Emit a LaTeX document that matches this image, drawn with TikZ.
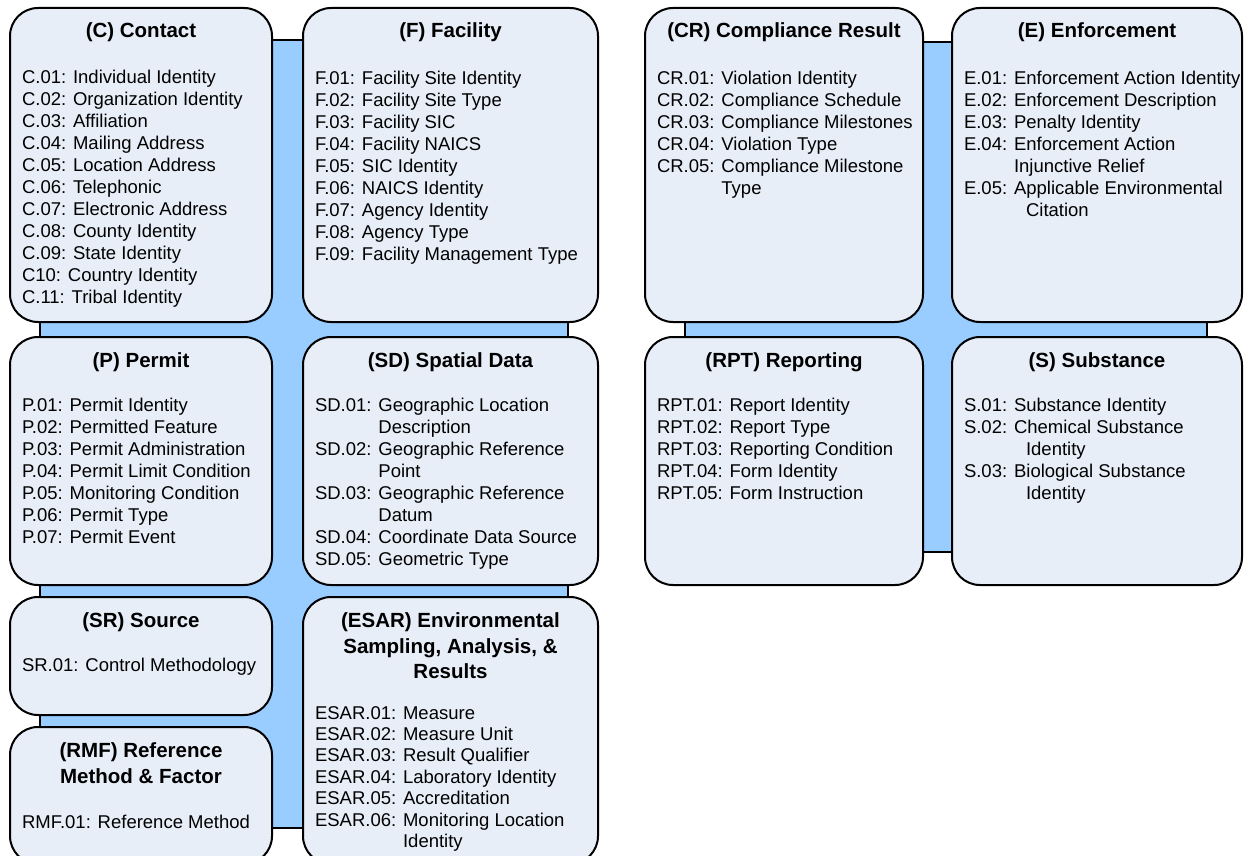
\documentclass[tikz,border=0pt]{standalone}
\usepackage{fontspec}
\setmainfont{Liberation Sans}
\usetikzlibrary{calc}
\definecolor{boxfill}{RGB}{232,238,248}
\definecolor{bgblue}{RGB}{153,204,255}
\tikzset{
  box/.style={draw=black, line width=2pt, fill=boxfill, rounded corners=28pt, inner sep=0pt, outer sep=0pt},
  bluebg/.style={draw=black, line width=2pt, fill=bgblue},
  titletext/.style={inner sep=0pt, outer sep=0pt, font=\fontsize{20.5}{25.5}\selectfont\bfseries},
  bodytext/.style={inner sep=0pt, outer sep=0pt, font=\fontsize{18.5}{22}\selectfont},
  bodytight/.style={inner sep=0pt, outer sep=0pt, font=\fontsize{18.5}{21.5}\selectfont},
}
% #1 name #2 left #3 top #4 right #5 bottom #6 title rows #7 title y #8 body rows #9 body y
\newcommand\panel[9]{%
  \pgfmathsetmacro\pw{#4-#2}%
  \pgfmathsetmacro\ph{#5-#3}%
  \pgfmathsetmacro\pcx{(#2+#4)/2}%
  \node[box, minimum width=\pw pt, minimum height=\ph pt, anchor=north west] (#1) at (#2,#3) {};
  \node[titletext, anchor=north] (#1-t) at (\pcx,#7-10.2) {\begin{tabular}{@{}c@{}}#6\end{tabular}};
  \node[bodytext, anchor=north west] (#1-b) at (#2+12,#9-8.8) {\begin{tabular}{@{}l@{}}#8\end{tabular}};
}
\begin{document}
\begin{tikzpicture}[x=1pt,y=-1pt]
\useasboundingbox (0,0) rectangle (1245,856);
\draw[bluebg] (40,40) rectangle (568,828);
\draw[bluebg] (685,42) rectangle (1207,552);

\panel{c}{10}{8}{272}{322}{(C) Contact}{30}{%
C.01: Individual Identity\\
C.02: Organization Identity\\
C.03: Affiliation\\
C.04: Mailing Address\\
C.05: Location Address\\
C.06: Telephonic\\
C.07: Electronic Address\\
C.08: County Identity\\
C.09: State Identity\\
C10: Country Identity\\
C.11: Tribal Identity}{77}

\panel{f}{303}{8}{598}{322}{(F) Facility}{30}{%
F.01: Facility Site Identity\\
F.02: Facility Site Type\\
F.03: Facility SIC\\
F.04: Facility NAICS\\
F.05: SIC Identity\\
F.06: NAICS Identity\\
F.07: Agency Identity\\
F.08: Agency Type\\
F.09: Facility Management Type}{78}

\panel{p}{10}{337}{272}{585}{(P) Permit}{360}{%
P.01: Permit Identity\\
P.02: Permitted Feature\\
P.03: Permit Administration\\
P.04: Permit Limit Condition\\
P.05: Monitoring Condition\\
P.06: Permit Type\\
P.07: Permit Event}{405}

\panel{sd}{303}{337}{598}{585}{(SD) Spatial Data}{360}{%
SD.01: Geographic Location\\
\phantom{SD.01: }Description\\
SD.02: Geographic Reference\\
\phantom{SD.02: }Point\\
SD.03: Geographic Reference\\
\phantom{SD.03: }Datum\\
SD.04: Coordinate Data Source\\
SD.05: Geometric Type}{405}

\panel{sr}{10}{597}{272}{715}{(SR) Source}{620}{%
SR.01: Control Methodology}{665}

\panel{rmf}{10}{727}{272}{864}{(RMF) Reference\\Method \& Factor}{750}{%
RMF.01: Reference Method}{822}

\panel{esar}{303}{597}{598}{864}{(ESAR) Environmental\\Sampling, Analysis, \&\\Results}{620}{%
\fontsize{18.5}{21.4}\selectfont
\begin{tabular}{@{}l@{}}
ESAR.01: Measure\\
ESAR.02: Measure Unit\\
ESAR.03: Result Qualifier\\
ESAR.04: Laboratory Identity\\
ESAR.05: Accreditation\\
ESAR.06: Monitoring Location\\
\phantom{ESAR.06: }Identity
\end{tabular}}{713}

\panel{cr}{645}{8}{923}{322}{(CR) Compliance Result}{30}{%
CR.01: Violation Identity\\
CR.02: Compliance Schedule\\
CR.03: Compliance Milestones\\
CR.04: Violation Type\\
CR.05: Compliance Milestone\\
\phantom{CR.05: }Type}{78}

\panel{e}{952}{8}{1242}{322}{(E) Enforcement}{30}{%
E.01: Enforcement Action Identity\\
E.02: Enforcement Description\\
E.03: Penalty Identity\\
E.04: Enforcement Action\\
\phantom{E.04: }Injunctive Relief\\
E.05: Applicable Environmental\\
\phantom{E.05: }\hspace{12pt}Citation}{78}

\panel{rpt}{645}{337}{923}{585}{(RPT) Reporting}{360}{%
RPT.01: Report Identity\\
RPT.02: Report Type\\
RPT.03: Reporting Condition\\
RPT.04: Form Identity\\
RPT.05: Form Instruction}{405}

\panel{s}{952}{337}{1242}{585}{(S) Substance}{360}{%
S.01: Substance Identity\\
S.02: Chemical Substance\\
\phantom{S.02: }\hspace{12pt}Identity\\
S.03: Biological Substance\\
\phantom{S.03: }\hspace{12pt}Identity}{405}
\end{tikzpicture}
\end{document}
